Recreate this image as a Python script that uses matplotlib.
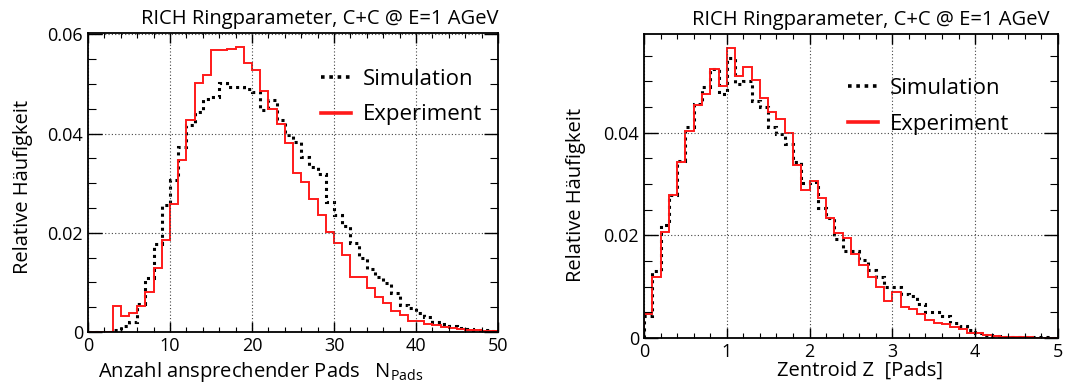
import matplotlib
matplotlib.use("Agg")
import matplotlib.pyplot as plt
import numpy as np
from matplotlib.ticker import MultipleLocator, FixedLocator

plt.rcParams['font.family'] = ['Open Sans', 'DejaVu Sans']
plt.rcParams['mathtext.fontset'] = 'custom'
plt.rcParams['mathtext.rm'] = 'Open Sans'

# ---- data ----
# left: number of fired pads, bins of width 1 from 0 to 50
npads_edges = np.arange(0, 51, 1)
npads_exp = [0, 0, 0, 0.0052, 0.0033, 0.0039, 0.0052, 0.0081, 0.0130, 0.0185,
             0.0258, 0.0346, 0.0428, 0.0502, 0.0519, 0.0568, 0.0568, 0.0571, 0.0574, 0.0543,
             0.0528, 0.0487, 0.0450, 0.0420, 0.0382, 0.0321, 0.0303, 0.0268, 0.0236, 0.0202,
             0.0179, 0.0155, 0.0111, 0.0110, 0.0088, 0.0070, 0.0058, 0.0042, 0.0034, 0.0022,
             0.0022, 0.0017, 0.0014, 0.0011, 0.0008, 0.0006, 0.0004, 0.0003, 0.0002, 0.0001]
npads_sim = [0, 0, 0, 0.0005, 0.0012, 0.0021, 0.0056, 0.0108, 0.0177, 0.0256,
             0.0307, 0.0374, 0.0417, 0.0444, 0.0470, 0.0474, 0.0502, 0.0494, 0.0495, 0.0491,
             0.0484, 0.0448, 0.0467, 0.0427, 0.0397, 0.0383, 0.0352, 0.0333, 0.0319, 0.0262,
             0.0236, 0.0213, 0.0180, 0.0150, 0.0128, 0.0111, 0.0098, 0.0079, 0.0054, 0.0048,
             0.0038, 0.0030, 0.0021, 0.0016, 0.0012, 0.0009, 0.0007, 0.0005, 0.0003, 0.0001]

# right: centroid Z, bins of width 0.1 from 0 to 5
zcen_edges = np.linspace(0, 5, 51)
zcen_exp = [0.0046, 0.0119, 0.0207, 0.0278, 0.0343, 0.0403, 0.0453, 0.0475, 0.0524, 0.0491,
            0.0565, 0.0511, 0.0527, 0.0502, 0.0467, 0.0441, 0.0426, 0.0399, 0.0336, 0.0288,
            0.0305, 0.0272, 0.0233, 0.0205, 0.0194, 0.0164, 0.0142, 0.0119, 0.0100, 0.0073,
            0.0090, 0.0061, 0.0056, 0.0046, 0.0035, 0.0030, 0.0027, 0.0022, 0.0017, 0.0010,
            0.0009, 0.0005, 0.0003, 0.0002, 0.0001, 0.0001, 0.0001, 0, 0, 0]
zcen_sim = [0.0042, 0.0130, 0.0221, 0.0278, 0.0345, 0.0410, 0.0455, 0.0488, 0.0524, 0.0475,
            0.0545, 0.0494, 0.0501, 0.0462, 0.0449, 0.0410, 0.0397, 0.0377, 0.0343, 0.0301,
            0.0303, 0.0254, 0.0233, 0.0192, 0.0170, 0.0169, 0.0151, 0.0132, 0.0119, 0.0100,
            0.0100, 0.0086, 0.0082, 0.0066, 0.0051, 0.0051, 0.0042, 0.0029, 0.0024, 0.0016,
            0.0010, 0.0006, 0.0003, 0.0002, 0.0001, 0.0001, 0.0001, 0.0001, 0.0001, 0]

yticks = [0, 0.02, 0.04, 0.06]
ytick_labels = ['0', '0.02', '0.04', '0.06']
title = 'RICH Ringparameter, C+C @ E=1 AGeV'

fig = plt.figure(figsize=(10.68, 3.85), dpi=100)
ax1 = fig.add_axes([0.0824, 0.1377, 0.3839, 0.7766])
ax2 = fig.add_axes([0.603, 0.1221, 0.3876, 0.7896])


def style(ax, xmax, xmajor, xminor, ymax):
    ax.set_xlim(0, xmax)
    ax.set_ylim(0, ymax)
    ax.xaxis.set_major_locator(MultipleLocator(xmajor))
    ax.xaxis.set_minor_locator(MultipleLocator(xminor))
    ax.yaxis.set_major_locator(FixedLocator(yticks))
    ax.set_yticklabels(ytick_labels)
    ax.yaxis.set_minor_locator(MultipleLocator(0.005))
    ax.tick_params(which='both', direction='in', top=True, right=True, labelsize=13)
    ax.tick_params(axis='x', which='major', length=7, width=1)
    ax.tick_params(axis='x', which='minor', length=3.6, width=0.8)
    ax.tick_params(axis='y', which='major', length=10, width=1)
    ax.tick_params(axis='y', which='minor', length=5.8, width=0.8)
    ax.grid(True, which='major', linestyle=(0, (1, 2)), color='#444444', linewidth=0.8)
    for s in ax.spines.values():
        s.set_linewidth(1.3)


def draw(ax, edges, sim, exp):
    ax.stairs(sim, edges, color='black', linewidth=2.2, linestyle=(0, (1, 1.3)), label='Simulation')
    ax.stairs(exp, edges, color='#ff1a1a', linewidth=1.4, label='Experiment')


def legend(ax, anchor):
    leg = ax.legend(loc='center left', bbox_to_anchor=anchor, frameon=False, fontsize=16,
                    handlelength=1.35, handletextpad=0.55, labelspacing=0.65, borderpad=0)
    for line in leg.get_lines():
        line.set_linewidth(2.6)


draw(ax1, npads_edges, npads_sim, npads_exp)
style(ax1, 50, 10, 2, 0.0603)
ax1.set_xlabel(r'Anzahl ansprechender Pads   N$_{\rm Pads}$', fontsize=14.5)
ax1.xaxis.set_label_coords(0.42, -0.094)
ax1.set_ylabel('Relative Häufigkeit', fontsize=14.5)
ax1.yaxis.set_label_coords(-0.134, 0.485)
ax1.text(1.0, 1.012, title, transform=ax1.transAxes, ha='right', va='bottom', fontsize=14.5)
legend(ax1, (0.54, 0.785))

draw(ax2, zcen_edges, zcen_sim, zcen_exp)
style(ax2, 5, 1, 0.2, 0.0592)
ax2.set_xlabel('Zentroid Z  [Pads]', fontsize=14.5)
ax2.xaxis.set_label_coords(0.522, -0.076)
ax2.set_ylabel('Relative Häufigkeit', fontsize=14.5)
ax2.yaxis.set_label_coords(-0.14, 0.47)
ax2.text(0.98, 1.012, title, transform=ax2.transAxes, ha='right', va='bottom', fontsize=14.5)
legend(ax2, (0.466, 0.762))

fig.savefig('out.png', dpi=100)
